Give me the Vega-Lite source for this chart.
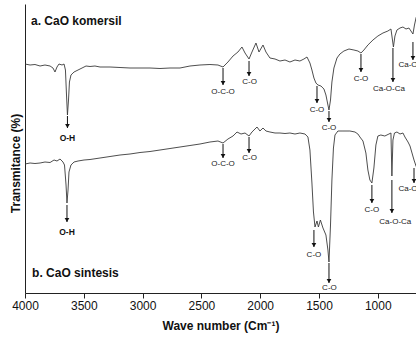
{
  "$schema": "https://vega.github.io/schema/vega-lite/v6.json",
  "autosize": {"type": "none"},
  "padding": {"left": 25, "top": 4, "right": 0, "bottom": 45},
  "width": 391,
  "height": 289,
  "config": {
    "view": {"stroke": null},
    "font": "Liberation Sans",
    "axis": {"grid": false}
  },
  "datasets": {
    "spec": [
      {"s":"a","wn":4000,"t":229},{"s":"a","wn":3957,"t":228},{"s":"a","wn":3915,"t":228.5},{"s":"a","wn":3872,"t":227},{"s":"a","wn":3830,"t":228},{"s":"a","wn":3787,"t":227},{"s":"a","wn":3762,"t":225},{"s":"a","wn":3745,"t":221},{"s":"a","wn":3728,"t":226},{"s":"a","wn":3711,"t":229},{"s":"a","wn":3685,"t":228},{"s":"a","wn":3668,"t":229},{"s":"a","wn":3656,"t":223},{"s":"a","wn":3647,"t":198},{"s":"a","wn":3639,"t":178},{"s":"a","wn":3630,"t":193},{"s":"a","wn":3622,"t":211},{"s":"a","wn":3609,"t":218},{"s":"a","wn":3583,"t":221},{"s":"a","wn":3549,"t":223},{"s":"a","wn":3515,"t":225},{"s":"a","wn":3481,"t":227},{"s":"a","wn":3447,"t":226.5},{"s":"a","wn":3405,"t":227},{"s":"a","wn":3362,"t":226},{"s":"a","wn":3277,"t":226},{"s":"a","wn":3192,"t":225.5},{"s":"a","wn":3107,"t":225},{"s":"a","wn":3022,"t":225},{"s":"a","wn":2937,"t":225},{"s":"a","wn":2852,"t":224.5},{"s":"a","wn":2767,"t":225},{"s":"a","wn":2682,"t":225},{"s":"a","wn":2597,"t":227},{"s":"a","wn":2512,"t":228},{"s":"a","wn":2427,"t":228.5},{"s":"a","wn":2359,"t":228},{"s":"a","wn":2316,"t":226},{"s":"a","wn":2274,"t":231},{"s":"a","wn":2231,"t":237},{"s":"a","wn":2189,"t":241},{"s":"a","wn":2155,"t":246},{"s":"a","wn":2129,"t":240},{"s":"a","wn":2095,"t":234},{"s":"a","wn":2070,"t":241},{"s":"a","wn":2036,"t":250},{"s":"a","wn":2010,"t":241},{"s":"a","wn":1976,"t":248},{"s":"a","wn":1951,"t":241},{"s":"a","wn":1917,"t":235},{"s":"a","wn":1874,"t":234},{"s":"a","wn":1832,"t":232},{"s":"a","wn":1789,"t":233},{"s":"a","wn":1747,"t":231},{"s":"a","wn":1704,"t":233},{"s":"a","wn":1662,"t":232},{"s":"a","wn":1628,"t":234},{"s":"a","wn":1602,"t":236},{"s":"a","wn":1577,"t":230},{"s":"a","wn":1560,"t":223},{"s":"a","wn":1543,"t":215},{"s":"a","wn":1526,"t":210},{"s":"a","wn":1509,"t":208},{"s":"a","wn":1483,"t":207},{"s":"a","wn":1458,"t":204},{"s":"a","wn":1441,"t":198},{"s":"a","wn":1424,"t":188},{"s":"a","wn":1415,"t":183},{"s":"a","wn":1402,"t":193},{"s":"a","wn":1390,"t":211},{"s":"a","wn":1373,"t":225},{"s":"a","wn":1347,"t":235},{"s":"a","wn":1322,"t":239},{"s":"a","wn":1288,"t":242},{"s":"a","wn":1245,"t":244},{"s":"a","wn":1203,"t":243},{"s":"a","wn":1169,"t":242},{"s":"a","wn":1143,"t":240},{"s":"a","wn":1118,"t":243},{"s":"a","wn":1084,"t":248},{"s":"a","wn":1041,"t":253},{"s":"a","wn":999,"t":257},{"s":"a","wn":956,"t":260},{"s":"a","wn":914,"t":262},{"s":"a","wn":888,"t":264},{"s":"a","wn":875,"t":253},{"s":"a","wn":867,"t":246},{"s":"a","wn":854,"t":257},{"s":"a","wn":837,"t":263},{"s":"a","wn":811,"t":265},{"s":"a","wn":786,"t":266},{"s":"a","wn":760,"t":264},{"s":"a","wn":735,"t":265},{"s":"a","wn":718,"t":262},{"s":"a","wn":701,"t":259},{"s":"a","wn":688,"t":268},{"s":"a","wn":675,"t":275},{"s":"a","wn":658,"t":281},
      {"s":"b","wn":4000,"t":129},{"s":"b","wn":3957,"t":130},{"s":"b","wn":3915,"t":129.5},{"s":"b","wn":3872,"t":130},{"s":"b","wn":3830,"t":131},{"s":"b","wn":3787,"t":130.5},{"s":"b","wn":3753,"t":133},{"s":"b","wn":3728,"t":132},{"s":"b","wn":3702,"t":134},{"s":"b","wn":3677,"t":131},{"s":"b","wn":3664,"t":128},{"s":"b","wn":3651,"t":108},{"s":"b","wn":3643,"t":90},{"s":"b","wn":3634,"t":103},{"s":"b","wn":3626,"t":121},{"s":"b","wn":3609,"t":128},{"s":"b","wn":3583,"t":131},{"s":"b","wn":3549,"t":132},{"s":"b","wn":3498,"t":133},{"s":"b","wn":3447,"t":133.5},{"s":"b","wn":3362,"t":135},{"s":"b","wn":3277,"t":136.5},{"s":"b","wn":3192,"t":138},{"s":"b","wn":3107,"t":139},{"s":"b","wn":3022,"t":140.5},{"s":"b","wn":2937,"t":141.5},{"s":"b","wn":2852,"t":143},{"s":"b","wn":2767,"t":144.5},{"s":"b","wn":2682,"t":146},{"s":"b","wn":2597,"t":147.5},{"s":"b","wn":2512,"t":149},{"s":"b","wn":2427,"t":151},{"s":"b","wn":2359,"t":152},{"s":"b","wn":2316,"t":150},{"s":"b","wn":2274,"t":154},{"s":"b","wn":2231,"t":157},{"s":"b","wn":2197,"t":161},{"s":"b","wn":2163,"t":159},{"s":"b","wn":2129,"t":160},{"s":"b","wn":2095,"t":157},{"s":"b","wn":2070,"t":161},{"s":"b","wn":2044,"t":164},{"s":"b","wn":2027,"t":166},{"s":"b","wn":2002,"t":162},{"s":"b","wn":1976,"t":165},{"s":"b","wn":1951,"t":162},{"s":"b","wn":1917,"t":161},{"s":"b","wn":1874,"t":160},{"s":"b","wn":1832,"t":160},{"s":"b","wn":1789,"t":159.5},{"s":"b","wn":1747,"t":160},{"s":"b","wn":1704,"t":159},{"s":"b","wn":1662,"t":160},{"s":"b","wn":1619,"t":159},{"s":"b","wn":1594,"t":156},{"s":"b","wn":1577,"t":143},{"s":"b","wn":1560,"t":110},{"s":"b","wn":1547,"t":81},{"s":"b","wn":1534,"t":66},{"s":"b","wn":1517,"t":72},{"s":"b","wn":1505,"t":66},{"s":"b","wn":1488,"t":73},{"s":"b","wn":1466,"t":65},{"s":"b","wn":1441,"t":58},{"s":"b","wn":1424,"t":43},{"s":"b","wn":1415,"t":31},{"s":"b","wn":1402,"t":68},{"s":"b","wn":1390,"t":113},{"s":"b","wn":1377,"t":145},{"s":"b","wn":1364,"t":158},{"s":"b","wn":1339,"t":162},{"s":"b","wn":1296,"t":162},{"s":"b","wn":1237,"t":162},{"s":"b","wn":1194,"t":161},{"s":"b","wn":1169,"t":159},{"s":"b","wn":1152,"t":156},{"s":"b","wn":1126,"t":152},{"s":"b","wn":1101,"t":140},{"s":"b","wn":1084,"t":123},{"s":"b","wn":1067,"t":113},{"s":"b","wn":1050,"t":110},{"s":"b","wn":1033,"t":125},{"s":"b","wn":1016,"t":148},{"s":"b","wn":999,"t":157},{"s":"b","wn":974,"t":158},{"s":"b","wn":940,"t":157},{"s":"b","wn":905,"t":159},{"s":"b","wn":888,"t":160},{"s":"b","wn":880,"t":117},{"s":"b","wn":871,"t":153},{"s":"b","wn":858,"t":160},{"s":"b","wn":837,"t":161},{"s":"b","wn":811,"t":159},{"s":"b","wn":786,"t":160},{"s":"b","wn":769,"t":156},{"s":"b","wn":743,"t":151},{"s":"b","wn":726,"t":147},{"s":"b","wn":709,"t":140},{"s":"b","wn":692,"t":133},{"s":"b","wn":675,"t":127},{"s":"b","wn":658,"t":123}
    ],
    "arrows": [
      {"wn":3639,"y1":177,"y2":165,"label":"O-H","lx":3639,"ly":155,"bold":true},
      {"wn":2316,"y1":225,"y2":208,"label":"O-C-O","lx":2316,"ly":201,"bold":false},
      {"wn":2095,"y1":232,"y2":217,"label":"C-O","lx":2090,"ly":211,"bold":false},
      {"wn":1517,"y1":207,"y2":190,"label":"C-O","lx":1517,"ly":183,"bold":false},
      {"wn":1415,"y1":182,"y2":171,"label":"C-O","lx":1415,"ly":165,"bold":false},
      {"wn":1143,"y1":239,"y2":221,"label":"C-O","lx":1143,"ly":214,"bold":false},
      {"wn":871,"y1":245,"y2":211,"label":"Ca-O-Ca","lx":905,"ly":204,"bold":false},
      {"wn":701,"y1":251,"y2":233,"label":"Ca-O","lx":743,"ly":228,"bold":false},
      {"wn":3643,"y1":88,"y2":71,"label":"O-H","lx":3643,"ly":61,"bold":true},
      {"wn":2316,"y1":149,"y2":135,"label":"O-C-O","lx":2316,"ly":129,"bold":false},
      {"wn":2095,"y1":156,"y2":140,"label":"C-O","lx":2090,"ly":135,"bold":false},
      {"wn":1543,"y1":63,"y2":46,"label":"C-O","lx":1543,"ly":38,"bold":false},
      {"wn":1415,"y1":30,"y2":10,"label":"C-O","lx":1411,"ly":5,"bold":false},
      {"wn":1050,"y1":108,"y2":90,"label":"C-O","lx":1050,"ly":83,"bold":false},
      {"wn":880,"y1":113,"y2":80,"label":"Ca-O-Ca","lx":851,"ly":71,"bold":false},
      {"wn":692,"y1":125,"y2":110,"label":"Ca-O","lx":743,"ly":104,"bold":false}
    ],
    "panels": [
      {"wn":3949,"t":272,"label":"a. CaO komersil"},
      {"wn":3940,"t":20.5,"label":"b. CaO sintesis"}
    ]
  },
  "layer": [
    {
      "data": {"name": "spec"},
      "mark": {"type": "line", "stroke": "#3a3a3a", "strokeWidth": 0.9, "clip": true, "interpolate": "linear"},
      "encoding": {
        "x": {
          "field": "wn", "type": "quantitative",
          "scale": {"domain": [4000, 675], "nice": false, "zero": false},
          "axis": {
            "values": [4000, 3750, 3500, 3250, 3000, 2750, 2500, 2250, 2000, 1750, 1500, 1250, 1000, 750],
            "labelExpr": "datum.value % 500 === 0 ? datum.label : ''",
            "format": "d",
            "tickSize": {"condition": {"test": "datum.value % 500 === 0", "value": 5}, "value": 3},
            "tickColor": "#222",
            "domainColor": "#222",
            "labelFontSize": 12,
            "labelColor": "#111",
            "labelPadding": 2,
            "labelFlush": false,
            "labelOverlap": false,
            "title": "Wave number (Cm⁻¹)",
            "titleFontSize": 12,
            "titleFontWeight": "bold",
            "titleColor": "#111",
            "titleBaseline": "middle",
            "titleY": 32
          }
        },
        "y": {
          "field": "t", "type": "quantitative",
          "scale": {"domain": [0, 289], "nice": false, "zero": false},
          "axis": {
            "ticks": false,
            "labels": false,
            "domainColor": "#222",
            "title": "Transmitance (%)",
            "titleFontSize": 12,
            "titleFontWeight": "bold",
            "titleColor": "#111",
            "titleAngle": -90,
            "titleX": -10,
            "titleY": 159,
            "titleAlign": "center",
            "titleBaseline": "middle"
          }
        },
        "detail": {"field": "s"}
      }
    },
    {
      "data": {"name": "arrows"},
      "mark": {"type": "rule", "stroke": "#111", "strokeWidth": 1},
      "encoding": {
        "x": {"field": "wn", "type": "quantitative"},
        "y": {"field": "y1", "type": "quantitative"},
        "y2": {"field": "y2"}
      }
    },
    {
      "data": {"name": "arrows"},
      "mark": {"type": "point", "shape": "triangle-down", "filled": true, "fill": "#111", "stroke": null, "size": 22, "opacity": 1, "yOffset": -2},
      "encoding": {
        "x": {"field": "wn", "type": "quantitative"},
        "y": {"field": "y2", "type": "quantitative"}
      }
    },
    {
      "data": {"name": "arrows"},
      "transform": [{"filter": "!datum.bold"}],
      "mark": {"type": "text", "fontSize": 8, "fill": "#222", "align": "center", "baseline": "middle"},
      "encoding": {
        "x": {"field": "lx", "type": "quantitative"},
        "y": {"field": "ly", "type": "quantitative"},
        "text": {"field": "label"}
      }
    },
    {
      "data": {"name": "arrows"},
      "transform": [{"filter": "datum.bold"}],
      "mark": {"type": "text", "fontSize": 8.5, "fontWeight": "bold", "fill": "#111", "align": "center", "baseline": "middle"},
      "encoding": {
        "x": {"field": "lx", "type": "quantitative"},
        "y": {"field": "ly", "type": "quantitative"},
        "text": {"field": "label"}
      }
    },
    {
      "data": {"name": "panels"},
      "mark": {"type": "text", "fontSize": 12, "fontWeight": "bold", "fill": "#111", "align": "left", "baseline": "middle"},
      "encoding": {
        "x": {"field": "wn", "type": "quantitative"},
        "y": {"field": "t", "type": "quantitative"},
        "text": {"field": "label"}
      }
    },
    {
      "mark": {"type": "rule", "stroke": "#222", "strokeWidth": 1},
      "encoding": {
        "y": {"datum": 289, "type": "quantitative"}
      }
    }
  ]
}
